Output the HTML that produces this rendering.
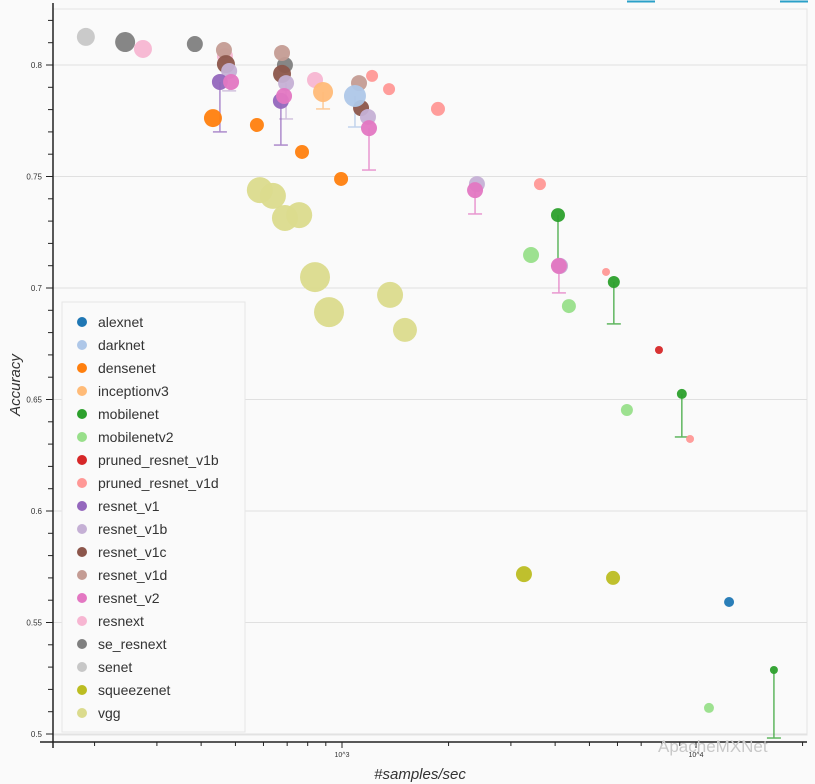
<!DOCTYPE html>
<html><head><meta charset="utf-8"><style>
html,body{margin:0;padding:0;background:#fff;}
svg{display:block;font-family:"Liberation Sans",sans-serif;}
</style></head><body>
<svg id="chart" width="815" height="784">
<rect x="0" y="0" width="815" height="784" fill="#fafafa"/>
<line x1="627" y1="1.5" x2="655" y2="1.5" stroke="#2aa0c8" stroke-width="2"/>
<line x1="780" y1="1.5" x2="808" y2="1.5" stroke="#2aa0c8" stroke-width="2"/>
<g id="grid"></g>
<g id="axes"></g>
<g id="marks"></g>
<g id="legend"></g>
<text x="20" y="385" transform="rotate(-90 20 385)" text-anchor="middle" font-size="15" font-style="italic" fill="#333">Accuracy</text>
<text x="420" y="779" text-anchor="middle" font-size="15" font-style="italic" fill="#333">#samples/sec</text>
<text x="658" y="752" font-size="17" fill="#c8c8c8">ApacheMXNet</text>
</svg>
<script>
const models = ["alexnet","darknet","densenet","inceptionv3","mobilenet","mobilenetv2","pruned_resnet_v1b","pruned_resnet_v1d","resnet_v1","resnet_v1b","resnet_v1c","resnet_v1d","resnet_v2","resnext","se_resnext","senet","squeezenet","vgg"];
const colors = ["#1f77b4","#aec7e8","#ff7f0e","#ffbb78","#2ca02c","#98df8a","#d62728","#ff9896","#9467bd","#c5b0d5","#8c564b","#c49c94","#e377c2","#f7b6d2","#7f7f7f","#c7c7c7","#bcbd22","#dbdb8d"];
const pointModel = ["vgg","vgg","vgg","vgg","vgg","vgg","vgg","vgg",
 "senet","se_resnext","se_resnext","se_resnext","resnext","resnext","resnext",
 "resnet_v1d","resnet_v1d","resnet_v1d","resnet_v1c","resnet_v1c","resnet_v1c",
 "resnet_v1b","resnet_v1b","resnet_v1b","resnet_v1b","resnet_v1b",
 "resnet_v1","resnet_v1","resnet_v2","resnet_v2","resnet_v2","resnet_v2","resnet_v2",
 "darknet","inceptionv3","densenet","densenet","densenet","densenet",
 "pruned_resnet_v1d","pruned_resnet_v1d","pruned_resnet_v1d","pruned_resnet_v1d","pruned_resnet_v1d","pruned_resnet_v1d",
 "pruned_resnet_v1b","mobilenet","mobilenet","mobilenet","mobilenet",
 "mobilenetv2","mobilenetv2","mobilenetv2","mobilenetv2","alexnet","squeezenet","squeezenet"];
const samples = [586,638,690,757,839,919,1367,1506,
 189,244,384,690,274,467,839,
 464,677,1117,470,677,1132,
 480,695,1184,2405,4130,
 452,672,486,686,1192,2376,4100,
 1088,884,432,575,771,994,
 1216,1358,1867,3624,5570,9620,
 7860,4075,5860,9120,16600,
 3420,4375,6380,10880,12400,3266,5830];
const accuracy = [0.7439,0.7413,0.7314,0.7327,0.7049,0.6892,0.6969,0.6812,
 0.8126,0.8103,0.8094,0.800,0.8072,0.804,0.7933,
 0.8067,0.8054,0.7919,0.8004,0.796,0.7807,
 0.7973,0.7919,0.7767,0.7466,0.7099,
 0.7924,0.7839,0.7924,0.7861,0.7717,0.7439,0.7099,
 0.7861,0.7879,0.7762,0.7731,0.761,0.7489,
 0.7951,0.7892,0.7803,0.7466,0.7072,0.6323,
 0.6722,0.7327,0.7027,0.6525,0.5287,
 0.7148,0.6919,0.6453,0.5117,0.5592,0.5717,0.570];
const modelSize = [13,13,13,13,15,15,13,12,
 9,10,8,8,9,8,8,
 8,8,8,9,9,8,
 8,8,8,8,8,
 8,8,8,8,8,8,8,
 11,10,9,7,7,7,
 6,6,7,6,4,4,
 4,7,6,5,4,
 8,7,6,5,5,8,7];
const errLow = [0,0,0,0,0,0,0,0,
 0,0,0,0,0,0,0,
 0,0,0,0,0,0,
 0.0089,0.0161,0,0,0,
 0.0224,0.0198,0,0,0.0188,0.0107,0.0121,
 0.0139,0.0076,0,0,0,0,
 0,0,0,0,0,0,
 0,0.0228,0.0188,0.0193,0.0305,
 0,0,0,0,0,0,0];
const yTicks = [0.5,0.55,0.6,0.65,0.7,0.75,0.8];
const yTickLabels = ["0.5","0.55","0.6","0.65","0.7","0.75","0.8"];
const xTicks = [1000,10000];
const xTickLabels = ["10^3","10^4"];

const NS="http://www.w3.org/2000/svg";
const X0=342, DEC=354, Y0=65, YS=2230;
function xs(v){return X0+Math.log10(v/1000)*DEC;}
function ys(v){return Y0+(0.8-v)*YS;}
function mk(tag,attrs,parent){const e=document.createElementNS(NS,tag);for(const k in attrs)e.setAttribute(k,attrs[k]);parent.appendChild(e);return e;}
const grid=document.getElementById('grid'), axes=document.getElementById('axes'), marks=document.getElementById('marks'), legend=document.getElementById('legend');
// plot frame
const fr=mk('rect',{x:53,y:9,width:754,height:726,fill:'none',stroke:'#e4e4e4'},grid);


yTicks.forEach((t,i)=>{
  const g=mk('line',{x1:53,x2:807,y1:ys(t),y2:ys(t),stroke:'#e0e0e0'},grid);
  
  
  const l=mk('text',{x:42,y:ys(t)+3,'text-anchor':'end','font-size':8,fill:'#333'},axes);
  l.textContent=yTickLabels[i];
  
  
});
for(let v=0.50;v<=0.8251;v+=0.01){
  const major=Math.abs(Math.round(v*100)%5)===0;
  const t=mk('line',{x1:major?46:48,x2:53,y1:ys(v),y2:ys(v),stroke:'#222'},axes);
  
  
}
mk('line',{x1:53,x2:53,y1:3,y2:748,stroke:'#222','stroke-width':1.5},axes);
mk('line',{x1:40,x2:807,y1:742,y2:742,stroke:'#222','stroke-width':1.5},axes);
for(let d=100;d<=10000;d*=10){for(let m=1;m<10;m++){const v=d*m;const px=xs(v);if(px<40||px>807)continue;
  const t=mk('line',{x1:px,x2:px,y1:742,y2:(m===1?748:746),stroke:'#222'},axes);
  
  }}
xTicks.forEach((t,i)=>{
  const l=mk('text',{x:xs(t),y:757,'text-anchor':'middle','font-size':7,fill:'#333'},axes);
  l.textContent=xTickLabels[i];
  
  
});
// error bars
samples.forEach((s,i)=>{
  if(!errLow[i])return;
  const c=colors[models.indexOf(pointModel[i])];
  const px=xs(s), y1=ys(accuracy[i]), y2=ys(accuracy[i]-errLow[i]);
  const g=mk('g',{stroke:c,'stroke-width':1.5,opacity:0.75},marks);
  
  
  mk('line',{x1:px,x2:px,y1:y1,y2:y2},g);
  mk('line',{x1:px-7,x2:px+7,y1:y2,y2:y2},g);
});
samples.forEach((s,i)=>{
  const c=colors[models.indexOf(pointModel[i])];
  const p=mk('circle',{cx:xs(s),cy:ys(accuracy[i]),r:modelSize[i],fill:c,opacity:0.95},marks);
  
  
});
const lb=mk('rect',{x:62,y:302,width:183,height:430,fill:'#fafafa',stroke:'#e6e6e6'},legend);


models.forEach((m,i)=>{
  const y=322+i*23;
  const g=mk('g',{},legend);
  
  
  mk('circle',{cx:82,cy:y,r:5,fill:colors[i]},g);
  const t=mk('text',{x:98,y:y+5,'font-size':14,fill:'#333'},g);
  t.textContent=m;
});
</script>
</body></html>
